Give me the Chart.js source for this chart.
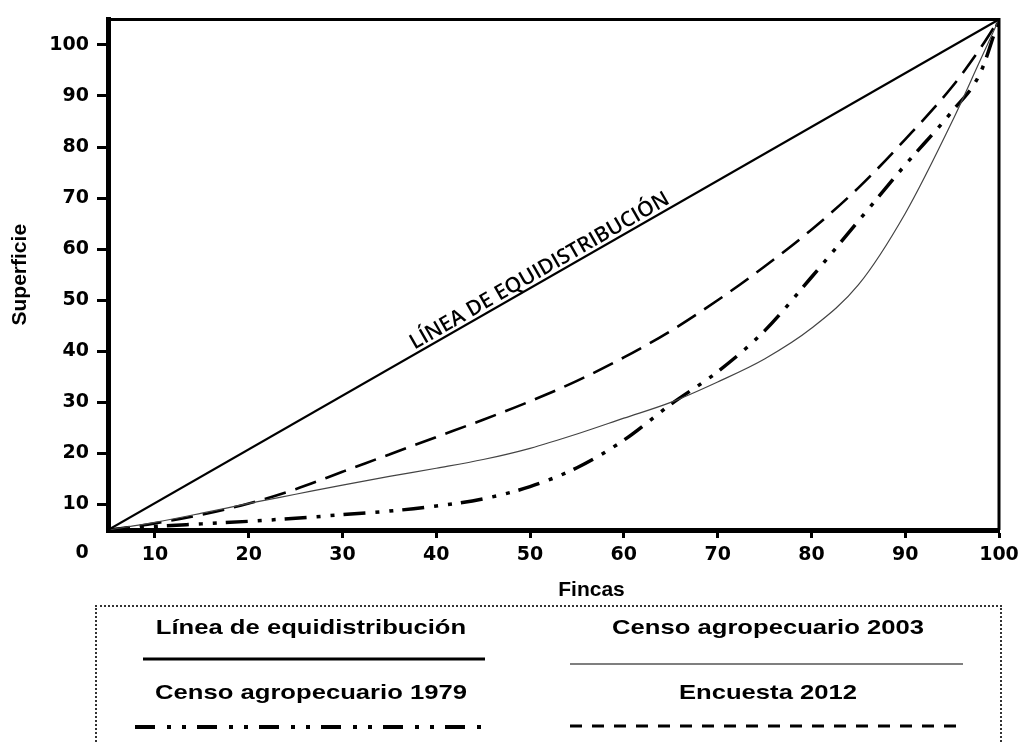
<!DOCTYPE html>
<html><head><meta charset="utf-8">
<script src="https://cdn.jsdelivr.net/npm/chart.js@4.4.1/dist/chart.umd.min.js"></script>
<style>
html,body{margin:0;padding:0;background:#fff;}
#wrap{position:relative;width:1027px;height:744px;overflow:hidden;background:#fff;}
#c{position:absolute;left:0;top:0;}
#box{position:absolute;left:95px;top:605px;width:907px;height:180px;border:2px dotted #333;box-sizing:border-box;}
.lt{position:absolute;font-family:'Liberation Sans',Arial,sans-serif;font-weight:bold;font-size:21px;white-space:nowrap;transform:translateX(-50%) scaleX(1.22);line-height:21px;color:#000;}
#samples{position:absolute;left:0;top:0;}
</style></head>
<body>
<div id="wrap">
<canvas id="c" width="1027" height="744"></canvas>
<div id="box"></div>
<div class="lt" style="left:311px;top:616px;">Línea de equidistribución</div>
<div class="lt" style="left:768px;top:616px;">Censo agropecuario 2003</div>
<div class="lt" style="left:311px;top:681px;">Censo agropecuario 1979</div>
<div class="lt" style="left:768px;top:681px;">Encuesta 2012</div>
<svg id="samples" width="1027" height="744">
<line x1="143" y1="659" x2="485" y2="659" stroke="#000" stroke-width="3"/>
<line x1="570" y1="664" x2="963" y2="664" stroke="#555" stroke-width="1.5"/>
<line x1="135" y1="727" x2="485" y2="727" stroke="#000" stroke-width="4" stroke-dasharray="20 12 4 11 4 11"/>
<line x1="570" y1="726" x2="963" y2="726" stroke="#000" stroke-width="3" stroke-dasharray="12 10"/>
</svg>
</div>
<script>
// ---- data ----
const fincas      = [5, 10, 15, 20, 25, 30, 35, 40, 45, 50, 55, 60, 65, 70, 75, 80, 85, 90, 95, 98, 100];
const censo2003   = [5, 6.5, 8.3, 10.2, 12, 13.8, 15.5, 17.1, 18.8, 21, 23.8, 26.9, 30, 34, 38.5, 44.5, 53, 67, 85, 97, 105];
const censo1979   = [5, 5.7, 6.2, 6.7, 7.3, 8, 8.7, 9.7, 11.1, 13.5, 17.2, 22.6, 29.6, 36, 44, 54.5, 65.5, 76.5, 87, 94.5, 105];
const encuesta2012= [5, 6.3, 8, 10.2, 13, 16.4, 19.8, 23.2, 26.6, 30.2, 34.2, 38.8, 44, 50, 56.6, 63.8, 72, 81.5, 91.8, 99.3, 105];
const equiX = [5, 100];
const equiY = [5, 105];
const xTicks = [10, 20, 30, 40, 50, 60, 70, 80, 90, 100];
const yTicks = [10, 20, 30, 40, 50, 60, 70, 80, 90, 100];
const originLabel = '0';
const equiText = 'LÍNEA DE EQUIDISTRIBUCIÓN';
const xTitle = 'Fincas';
const yTitle = 'Superficie';

const pts = (xs, ys) => xs.map((x, i) => ({x: x, y: ys[i]}));
const tickFont = {family: "'DejaVu Sans', sans-serif", weight: 'bold', size: 19};

const extras = {
  id: 'extras',
  afterDraw(chart) {
    const ctx = chart.ctx, a = chart.chartArea, sx = chart.scales.x, sy = chart.scales.y;
    ctx.save();
    // top and right frame
    ctx.strokeStyle = '#000';
    ctx.lineWidth = 3;
    ctx.beginPath();
    ctx.moveTo(a.left, a.top);
    ctx.lineTo(a.right, a.top);
    ctx.lineTo(a.right, a.bottom);
    ctx.stroke();
    // origin label
    ctx.fillStyle = '#000';
    ctx.font = 'bold 19px "DejaVu Sans", sans-serif';
    ctx.textAlign = 'center';
    ctx.textBaseline = 'top';
    ctx.fillText(originLabel, a.left - 26, sx.top + 8 + 6);
    // x axis title (sits a little right of centre in the original)
    ctx.font = 'bold 21px "Liberation Sans", Arial, sans-serif';
    ctx.textBaseline = 'middle';
    ctx.fillText(xTitle, (a.left + a.right) / 2 + 38, a.bottom + 60);
    // rotated label along the equidistribution line
    const x1 = sx.getPixelForValue(equiX[0]), y1 = sy.getPixelForValue(equiY[0]);
    const x2 = sx.getPixelForValue(equiX[1]), y2 = sy.getPixelForValue(equiY[1]);
    const ang = Math.atan2(y2 - y1, x2 - x1);
    const t = 0.49;
    const cx = x1 + (x2 - x1) * t, cy = y1 + (y2 - y1) * t;
    ctx.translate(cx, cy);
    ctx.rotate(ang);
    ctx.font = '600 21px "Open Sans", sans-serif';
    ctx.textBaseline = 'alphabetic';
    ctx.fillText(equiText, 0, -4);
    ctx.restore();
  }
};

new Chart(document.getElementById('c'), {
  type: 'line',
  data: {
    datasets: [
      {label: 'Línea de equidistribución', data: pts(equiX, equiY), borderColor: '#000', borderWidth: 2.2, tension: 0},
      {label: 'Censo agropecuario 2003', data: pts(fincas, censo2003), borderColor: '#444', borderWidth: 1.2, cubicInterpolationMode: 'monotone'},
      {label: 'Censo agropecuario 1979', data: pts(fincas, censo1979), borderColor: '#000', borderWidth: 3.5, borderDash: [22, 10, 4, 10, 4, 9], cubicInterpolationMode: 'monotone'},
      {label: 'Encuesta 2012', data: pts(fincas, encuesta2012), borderColor: '#000', borderWidth: 2.6, borderDash: [22, 10], cubicInterpolationMode: 'monotone'}
    ]
  },
  options: {
    responsive: false,
    animation: false,
    devicePixelRatio: 1,
    layout: {padding: {left: 8, right: 28, top: 10, bottom: 139}},
    elements: {point: {radius: 0}},
    plugins: {legend: {display: false}, tooltip: {enabled: false}},
    scales: {
      x: {
        type: 'linear', min: 5, max: 100,
        afterBuildTicks: s => { s.ticks = xTicks.map(v => ({value: v})); },
        afterFit: s => { s.height = 75; },
        grid: {drawOnChartArea: false, drawTicks: true, tickLength: 8, tickWidth: 3, tickColor: '#000'},
        border: {display: true, color: '#000', width: 5},
        ticks: {font: tickFont, color: '#000', padding: 6, maxRotation: 0, autoSkip: false},
        title: {display: false, text: xTitle}
      },
      y: {
        type: 'linear', min: 5, max: 105,
        afterBuildTicks: s => { s.ticks = yTicks.map(v => ({value: v})); },
        afterFit: s => { s.width = 100; },
        grid: {drawOnChartArea: false, drawTicks: true, tickLength: 11, tickWidth: 3, tickColor: '#000'},
        border: {display: true, color: '#000', width: 5},
        ticks: {font: tickFont, color: '#000', padding: 8, autoSkip: false},
        title: {display: true, text: yTitle, color: '#000', font: {family: "'Liberation Sans', Arial, sans-serif", weight: 'bold', size: 21}, padding: {top: 0, bottom: 0}}
      }
    }
  },
  plugins: [extras]
});
</script>
</body></html>
